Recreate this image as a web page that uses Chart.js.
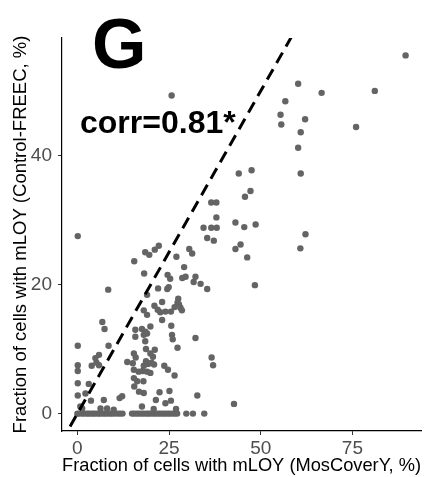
<!DOCTYPE html>
<html>
<head>
<meta charset="utf-8">
<script src="https://cdn.jsdelivr.net/npm/chart.js@4/dist/chart.umd.min.js"></script>
<style>
  html, body { margin: 0; padding: 0; background: #fff; }
  #wrap { width: 426px; height: 477px; }
</style>
</head>
<body>
<div id="wrap"><canvas id="chart" width="426" height="477"></canvas></div>
<script>
// Fraction of cells with mLOY, one entry per sample (x: MosCoverY, y: Control-FREEC)
const mosCoverY = [
  // row at zero
  0, 0.5, 1.3, 1.9, 2.6, 3.1, 3.8, 4.4, 5.0, 5.7, 6.2, 6.9, 7.5, 8.1, 8.8, 9.4, 10.1, 10.9, 11.6, 12.3,
  14.9, 15.5, 16.2, 16.8, 17.5, 18.1, 18.8, 19.4, 20.0, 20.7, 21.3, 22.0, 22.6, 23.3, 23.9, 24.6, 25.2, 25.9, 26.6, 27.2, 29.7, 31.5, 34.6,
  // near zero
  0.8, 1.3, 6.3, 8.1, 9.9, 17.6, 20.8, 26.9,
  // low x
  0.1, 0.1, 0.1, 0.1, 0.1, 0.1, 2.2, 3.7, 3.1, 7.2, 11.5, 12.2,
  3.9, 5.2, 5.9, 5.9, 4.9, 8.5, 6.8, 7.4, 8.4, 13.6,
  // main cluster
  15.5, 18.5, 19.6, 21.1, 22.2, 18.2, 27.0, 30.5, 31.3, 29.1,
  24.6, 25.3, 28.6, 29.5, 32.2, 31.7, 33.6, 35.4, 24.9, 24.5,
  19.0, 22.0, 27.5, 27.3, 27.7, 21.0, 23.1, 21.9, 22.6, 24.0,
  25.5, 26.5, 28.1, 28.5, 18.1, 19.0, 23.1, 25.6, 19.9, 17.6,
  18.5, 19.0, 18.1, 25.8, 26.0, 32.2, 18.5, 15.8, 15.8, 27.3,
  18.7, 21.1, 19.9, 20.6, 15.4, 15.9, 15.1, 18.7, 19.3, 18.1,
  20.2, 20.9, 15.4, 16.7, 17.8, 19.0, 19.9, 15.4, 16.3, 18.0,
  15.5, 16.8, 18.1, 22.4, 25.1, 21.4, 24.0, 25.5, 23.7, 24.7,
  26.5, 32.7, 36.6, 37.0, 42.7,
  // upper middle
  36.5, 37.9, 37.9, 34.4, 36.5, 38.0, 35.4, 37.2,
  43.1, 45.5, 48.6, 43.1, 44.5, 46.3, 48.4,
  44.0, 47.5, 47.2, 45.7,
  60.9, 60.2, 60.9, 62.1, 55.6, 55.4, 56.7, 60.2, 66.6, 81.1, 89.5, 76.0,
  62.2, 60.8, 25.7
];
const controlFreec = [
  // row at zero
  0, 0, 0, 0, 0, 0, 0, 0, 0, 0, 0, 0, 0, 0, 0, 0, 0, 0, 0, 0,
  0, 0, 0, 0, 0, 0, 0, 0, 0, 0, 0, 0, 0, 0, 0, 0, 0, 0, 0, 0, 0, 0, 0,
  // near zero
  1.1, 0.8, 0.8, 0.8, 0.6, 1.1, 0.7, 0.7,
  // low x
  27.5, 10.5, 7.5, 6.6, 4.7, 2.8, 3.1, 2.0, 4.6, 2.1, 2.4, 2.7,
  7.4, 7.9, 7.5, 9.1, 8.6, 10.5, 14.2, 13.1, 19.2, 8.0,
  // main cluster
  23.6, 25.0, 24.6, 25.4, 26.0, 21.7, 24.3, 25.5, 24.8, 22.7,
  21.5, 20.9, 21.0, 21.2, 21.2, 20.4, 20.1, 19.3, 19.6, 19.3,
  18.4, 19.4, 17.8, 17.2, 16.9, 16.7, 17.3, 16.1, 15.7, 15.8,
  15.8, 16.5, 16.4, 16.0, 16.0, 15.3, 14.5, 13.6, 13.5, 13.1,
  12.7, 12.4, 12.2, 12.2, 11.5, 11.7, 11.2, 13.0, 11.9, 10.2,
  10.0, 9.9, 9.3, 8.8, 9.3, 8.7, 7.8, 8.1, 7.7, 7.4,
  7.9, 7.6, 6.8, 6.5, 6.6, 6.5, 6.3, 5.5, 5.0, 5.0,
  4.2, 3.4, 3.2, 3.3, 3.5, 2.1, 1.6, 2.0, 7.4, 6.8,
  5.9, 2.8, 8.7, 7.5, 1.5,
  // upper middle
  32.7, 32.7, 30.4, 28.8, 28.8, 28.8, 27.2, 26.8,
  29.6, 28.9, 29.3, 25.5, 26.2, 24.2, 19.9,
  37.2, 37.7, 34.5, 33.6,
  37.2, 41.2, 43.6, 45.6, 44.8, 46.3, 48.4, 51.1, 49.7, 50.0, 55.5, 44.4,
  27.8, 25.6, 49.3
];

// identity line (y = x) drawn across the plot
const identityX = [-2, 58.3];

const xTicks = [0, 25, 50, 75];
const yTicks = [0, 20, 40];
const xRange = [-4.2, 93.7];
const yRange = [-2.7, 58.2];

const panelLabel = 'G';
const corrLabel = 'corr=0.81*';

const points = mosCoverY.map((x, i) => ({ x: x, y: controlFreec[i] }));
const identity = identityX.map(v => ({ x: v, y: v }));

const FONT = "'Liberation Sans', Arial, Helvetica, sans-serif";

// panel letter and correlation text
const labelPlugin = {
    id: 'labels',
    afterDraw(chart) {
        const ctx = chart.ctx;
        ctx.save();
        ctx.fillStyle = '#000';
        ctx.textBaseline = 'alphabetic';
        ctx.font = 'bold 70px ' + FONT;
        ctx.fillText(panelLabel, 92, 68);
        ctx.font = 'bold 32px ' + FONT;
        ctx.fillText(corrLabel, 80, 133);
        ctx.restore();
    }
};

new Chart(document.getElementById('chart'), {
    type: 'scatter',
    data: {
        datasets: [
            {
                data: points,
                pointRadius: 3.2,
                pointHoverRadius: 3.2,
                pointBackgroundColor: '#646464',
                pointBorderWidth: 0,
                order: 2
            },
            {
                type: 'line',
                data: identity,
                borderColor: '#000',
                borderWidth: 3,
                borderDash: [12, 7],
                pointRadius: 0,
                fill: false,
                order: 1
            }
        ]
    },
    options: {
        responsive: false,
        animation: false,
        events: [],
        layout: { padding: { left: 10, right: 5, top: 38, bottom: 0 } },
        plugins: {
            legend: { display: false },
            tooltip: { enabled: false }
        },
        scales: {
            x: {
                type: 'linear',
                min: xRange[0],
                max: xRange[1],
                afterBuildTicks: s => { s.ticks = xTicks.map(v => ({ value: v })); },
                afterFit: s => { s.height = 46; },
                border: { display: true, color: '#000', width: 1.2 },
                grid: { drawOnChartArea: false, drawTicks: true, tickLength: 4, color: '#333' },
                ticks: { color: '#4d4d4d', font: { family: FONT, size: 19 }, padding: 2, maxRotation: 0 },
                title: {
                    display: true,
                    text: 'Fraction of cells with mLOY (MosCoverY, %)',
                    color: '#000',
                    font: { family: FONT, size: 18.5 },
                    padding: 0
                }
            },
            y: {
                type: 'linear',
                min: yRange[0],
                max: yRange[1],
                afterBuildTicks: s => { s.ticks = yTicks.map(v => ({ value: v })); },
                afterFit: s => { s.width = 52; },
                border: { display: true, color: '#000', width: 1.2 },
                grid: { drawOnChartArea: false, drawTicks: true, tickLength: 4, color: '#333' },
                ticks: { color: '#4d4d4d', font: { family: FONT, size: 19 }, padding: 6 },
                title: {
                    display: true,
                    text: 'Fraction of cells with mLOY (Control-FREEC, %)',
                    color: '#000',
                    font: { family: FONT, size: 18.5 },
                    padding: 0
                }
            }
        }
    },
    plugins: [labelPlugin]
});
</script>
</body>
</html>
